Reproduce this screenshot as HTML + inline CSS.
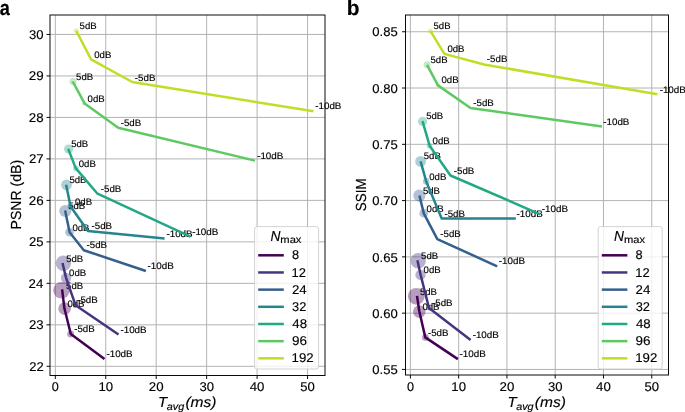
<!DOCTYPE html>
<html><head><meta charset="utf-8"><style>
html,body{margin:0;padding:0;background:#fff;}
svg{display:block;font-family:"Liberation Sans", sans-serif;will-change:transform;}
text{fill:#000;text-rendering:geometricPrecision;stroke:#000;stroke-width:0.15px;}
</style></head><body>
<svg width="685" height="412" viewBox="0 0 685 412">
<rect width="685" height="412" fill="#fff"/>
<path d="M55.30 15.00V375.50 M105.75 15.00V375.50 M156.20 15.00V375.50 M206.65 15.00V375.50 M257.10 15.00V375.50 M307.55 15.00V375.50 M50.00 366.30H325.00 M50.00 324.82H325.00 M50.00 283.34H325.00 M50.00 241.86H325.00 M50.00 200.38H325.00 M50.00 158.90H325.00 M50.00 117.42H325.00 M50.00 75.94H325.00 M50.00 34.46H325.00" stroke="#b0b0b0" stroke-width="0.96" fill="none"/>
<path d="M410.40 15.00V375.00 M458.67 15.00V375.00 M506.94 15.00V375.00 M555.21 15.00V375.00 M603.48 15.00V375.00 M651.75 15.00V375.00 M405.50 369.45H668.50 M405.50 313.17H668.50 M405.50 256.88H668.50 M405.50 200.60H668.50 M405.50 144.32H668.50 M405.50 88.03H668.50 M405.50 31.75H668.50" stroke="#b0b0b0" stroke-width="0.96" fill="none"/>
<circle cx="76.20" cy="30.80" r="2.60" fill="#bddf26" fill-opacity="0.38"/>
<circle cx="73.00" cy="81.50" r="3.50" fill="#5ec962" fill-opacity="0.38"/>
<circle cx="84.00" cy="103.60" r="2.00" fill="#5ec962" fill-opacity="0.38"/>
<circle cx="68.60" cy="149.10" r="4.60" fill="#22a884" fill-opacity="0.38"/>
<circle cx="75.90" cy="168.40" r="2.80" fill="#22a884" fill-opacity="0.38"/>
<circle cx="66.50" cy="185.00" r="5.40" fill="#25848e" fill-opacity="0.38"/>
<circle cx="70.60" cy="206.30" r="3.00" fill="#25848e" fill-opacity="0.38"/>
<circle cx="65.30" cy="211.00" r="6.10" fill="#355f8d" fill-opacity="0.38"/>
<circle cx="69.50" cy="232.30" r="4.30" fill="#355f8d" fill-opacity="0.38"/>
<circle cx="63.40" cy="263.30" r="7.70" fill="#463480" fill-opacity="0.38"/>
<circle cx="66.00" cy="278.00" r="5.20" fill="#463480" fill-opacity="0.38"/>
<circle cx="75.30" cy="305.50" r="2.50" fill="#463480" fill-opacity="0.38"/>
<circle cx="61.50" cy="290.30" r="8.30" fill="#440154" fill-opacity="0.38"/>
<circle cx="64.60" cy="308.60" r="6.30" fill="#440154" fill-opacity="0.38"/>
<circle cx="70.70" cy="334.00" r="3.50" fill="#440154" fill-opacity="0.38"/>
<polyline points="62.10,289.40 64.40,308.30 70.80,334.00 104.50,359.10" fill="none" stroke="#440154" stroke-width="2.5" stroke-linejoin="round" stroke-linecap="butt"/>
<text x="66.12" y="288.60" font-size="9.43" textLength="16.99" lengthAdjust="spacingAndGlyphs" >5dB</text>
<text x="67.42" y="306.90" font-size="9.43" textLength="17.08" lengthAdjust="spacingAndGlyphs" >0dB</text>
<text x="74.17" y="331.70" font-size="9.43" textLength="20.51" lengthAdjust="spacingAndGlyphs" >-5dB</text>
<text x="106.46" y="356.90" font-size="9.43" textLength="26.18" lengthAdjust="spacingAndGlyphs" >-10dB</text>
<polyline points="62.50,263.00 66.00,277.60 75.50,305.20 118.50,334.50" fill="none" stroke="#463480" stroke-width="2.5" stroke-linejoin="round" stroke-linecap="butt"/>
<text x="66.22" y="261.50" font-size="9.43" textLength="16.99" lengthAdjust="spacingAndGlyphs" >5dB</text>
<text x="69.12" y="276.30" font-size="9.43" textLength="17.08" lengthAdjust="spacingAndGlyphs" >0dB</text>
<text x="77.17" y="302.80" font-size="9.43" textLength="20.51" lengthAdjust="spacingAndGlyphs" >-5dB</text>
<text x="120.46" y="333.00" font-size="9.43" textLength="26.18" lengthAdjust="spacingAndGlyphs" >-10dB</text>
<polyline points="65.10,210.60 69.60,232.20 83.80,250.20 145.90,271.00" fill="none" stroke="#355f8d" stroke-width="2.5" stroke-linejoin="round" stroke-linecap="butt"/>
<text x="68.22" y="208.60" font-size="9.43" textLength="16.99" lengthAdjust="spacingAndGlyphs" >5dB</text>
<text x="72.42" y="230.70" font-size="9.43" textLength="17.08" lengthAdjust="spacingAndGlyphs" >0dB</text>
<text x="86.57" y="247.90" font-size="9.43" textLength="20.51" lengthAdjust="spacingAndGlyphs" >-5dB</text>
<text x="147.56" y="268.70" font-size="9.43" textLength="26.18" lengthAdjust="spacingAndGlyphs" >-10dB</text>
<polyline points="66.10,184.80 70.60,206.50 87.90,231.00 164.60,238.40" fill="none" stroke="#25848e" stroke-width="2.5" stroke-linejoin="round" stroke-linecap="butt"/>
<text x="69.42" y="183.00" font-size="9.43" textLength="16.99" lengthAdjust="spacingAndGlyphs" >5dB</text>
<text x="75.02" y="204.70" font-size="9.43" textLength="17.08" lengthAdjust="spacingAndGlyphs" >0dB</text>
<text x="91.57" y="229.00" font-size="9.43" textLength="20.51" lengthAdjust="spacingAndGlyphs" >-5dB</text>
<text x="166.46" y="236.80" font-size="9.43" textLength="26.18" lengthAdjust="spacingAndGlyphs" >-10dB</text>
<polyline points="68.20,148.90 75.70,168.10 97.50,193.70 190.40,236.70" fill="none" stroke="#22a884" stroke-width="2.5" stroke-linejoin="round" stroke-linecap="butt"/>
<text x="71.22" y="147.20" font-size="9.43" textLength="16.99" lengthAdjust="spacingAndGlyphs" >5dB</text>
<text x="78.72" y="166.70" font-size="9.43" textLength="17.08" lengthAdjust="spacingAndGlyphs" >0dB</text>
<text x="100.77" y="191.90" font-size="9.43" textLength="20.51" lengthAdjust="spacingAndGlyphs" >-5dB</text>
<text x="192.16" y="235.10" font-size="9.43" textLength="26.18" lengthAdjust="spacingAndGlyphs" >-10dB</text>
<polyline points="72.70,81.50 84.60,103.40 118.20,127.70 255.00,160.60" fill="none" stroke="#5ec962" stroke-width="2.5" stroke-linejoin="round" stroke-linecap="butt"/>
<text x="76.12" y="79.70" font-size="9.43" textLength="16.99" lengthAdjust="spacingAndGlyphs" >5dB</text>
<text x="87.62" y="101.70" font-size="9.43" textLength="17.08" lengthAdjust="spacingAndGlyphs" >0dB</text>
<text x="120.67" y="126.00" font-size="9.43" textLength="20.51" lengthAdjust="spacingAndGlyphs" >-5dB</text>
<text x="257.16" y="159.10" font-size="9.43" textLength="26.18" lengthAdjust="spacingAndGlyphs" >-10dB</text>
<polyline points="76.30,30.90 91.00,59.30 132.20,82.00 313.50,111.30" fill="none" stroke="#bddf26" stroke-width="2.5" stroke-linejoin="round" stroke-linecap="butt"/>
<text x="79.62" y="29.40" font-size="9.43" textLength="16.99" lengthAdjust="spacingAndGlyphs" >5dB</text>
<text x="94.22" y="58.00" font-size="9.43" textLength="17.08" lengthAdjust="spacingAndGlyphs" >0dB</text>
<text x="134.87" y="80.60" font-size="9.43" textLength="20.51" lengthAdjust="spacingAndGlyphs" >-5dB</text>
<text x="315.26" y="109.40" font-size="9.43" textLength="26.18" lengthAdjust="spacingAndGlyphs" >-10dB</text>
<circle cx="430.50" cy="31.10" r="2.60" fill="#bddf26" fill-opacity="0.38"/>
<circle cx="427.00" cy="64.80" r="3.50" fill="#5ec962" fill-opacity="0.38"/>
<circle cx="438.00" cy="85.20" r="2.00" fill="#5ec962" fill-opacity="0.38"/>
<circle cx="422.60" cy="121.40" r="4.60" fill="#22a884" fill-opacity="0.38"/>
<circle cx="429.60" cy="145.70" r="2.80" fill="#22a884" fill-opacity="0.38"/>
<circle cx="420.60" cy="161.40" r="5.40" fill="#25848e" fill-opacity="0.38"/>
<circle cx="426.20" cy="181.40" r="3.30" fill="#25848e" fill-opacity="0.38"/>
<circle cx="419.40" cy="195.60" r="6.10" fill="#355f8d" fill-opacity="0.38"/>
<circle cx="423.70" cy="213.30" r="4.30" fill="#355f8d" fill-opacity="0.38"/>
<circle cx="418.20" cy="260.80" r="7.70" fill="#463480" fill-opacity="0.38"/>
<circle cx="420.50" cy="274.90" r="5.20" fill="#463480" fill-opacity="0.38"/>
<circle cx="429.00" cy="308.00" r="2.50" fill="#463480" fill-opacity="0.38"/>
<circle cx="416.30" cy="296.30" r="8.40" fill="#440154" fill-opacity="0.38"/>
<circle cx="419.30" cy="311.60" r="6.30" fill="#440154" fill-opacity="0.38"/>
<circle cx="425.40" cy="337.40" r="3.40" fill="#440154" fill-opacity="0.38"/>
<polyline points="417.00,295.90 419.30,311.20 425.30,337.40 457.90,359.10" fill="none" stroke="#440154" stroke-width="2.5" stroke-linejoin="round" stroke-linecap="butt"/>
<text x="419.92" y="294.60" font-size="9.43" textLength="16.99" lengthAdjust="spacingAndGlyphs" >5dB</text>
<text x="422.42" y="309.50" font-size="9.43" textLength="17.08" lengthAdjust="spacingAndGlyphs" >0dB</text>
<text x="427.97" y="335.70" font-size="9.43" textLength="20.51" lengthAdjust="spacingAndGlyphs" >-5dB</text>
<text x="459.56" y="356.60" font-size="9.43" textLength="26.18" lengthAdjust="spacingAndGlyphs" >-10dB</text>
<polyline points="417.40,260.30 420.60,274.70 429.00,308.00 470.60,339.90" fill="none" stroke="#463480" stroke-width="2.5" stroke-linejoin="round" stroke-linecap="butt"/>
<text x="421.12" y="258.60" font-size="9.43" textLength="16.99" lengthAdjust="spacingAndGlyphs" >5dB</text>
<text x="423.62" y="272.50" font-size="9.43" textLength="17.08" lengthAdjust="spacingAndGlyphs" >0dB</text>
<text x="432.07" y="306.40" font-size="9.43" textLength="20.51" lengthAdjust="spacingAndGlyphs" >-5dB</text>
<text x="472.66" y="338.00" font-size="9.43" textLength="26.18" lengthAdjust="spacingAndGlyphs" >-10dB</text>
<polyline points="419.40,195.50 423.80,213.40 437.30,239.10 497.20,266.30" fill="none" stroke="#355f8d" stroke-width="2.5" stroke-linejoin="round" stroke-linecap="butt"/>
<text x="422.92" y="193.80" font-size="9.43" textLength="16.99" lengthAdjust="spacingAndGlyphs" >5dB</text>
<text x="426.62" y="211.50" font-size="9.43" textLength="17.08" lengthAdjust="spacingAndGlyphs" >0dB</text>
<text x="440.27" y="236.60" font-size="9.43" textLength="20.51" lengthAdjust="spacingAndGlyphs" >-5dB</text>
<text x="498.86" y="263.50" font-size="9.43" textLength="26.18" lengthAdjust="spacingAndGlyphs" >-10dB</text>
<polyline points="420.60,161.30 426.20,181.40 441.70,218.40 515.80,218.60" fill="none" stroke="#25848e" stroke-width="2.5" stroke-linejoin="round" stroke-linecap="butt"/>
<text x="423.82" y="159.20" font-size="9.43" textLength="16.99" lengthAdjust="spacingAndGlyphs" >5dB</text>
<text x="429.22" y="179.70" font-size="9.43" textLength="17.08" lengthAdjust="spacingAndGlyphs" >0dB</text>
<text x="444.47" y="216.60" font-size="9.43" textLength="20.51" lengthAdjust="spacingAndGlyphs" >-5dB</text>
<text x="516.56" y="216.90" font-size="9.43" textLength="26.18" lengthAdjust="spacingAndGlyphs" >-10dB</text>
<polyline points="422.50,121.20 429.60,145.70 450.50,175.50 540.20,214.30" fill="none" stroke="#22a884" stroke-width="2.5" stroke-linejoin="round" stroke-linecap="butt"/>
<text x="426.22" y="119.30" font-size="9.43" textLength="16.99" lengthAdjust="spacingAndGlyphs" >5dB</text>
<text x="432.62" y="144.00" font-size="9.43" textLength="17.08" lengthAdjust="spacingAndGlyphs" >0dB</text>
<text x="453.77" y="173.70" font-size="9.43" textLength="20.51" lengthAdjust="spacingAndGlyphs" >-5dB</text>
<text x="541.86" y="211.80" font-size="9.43" textLength="26.18" lengthAdjust="spacingAndGlyphs" >-10dB</text>
<polyline points="427.00,64.80 438.00,85.40 470.50,108.00 602.00,126.50" fill="none" stroke="#5ec962" stroke-width="2.5" stroke-linejoin="round" stroke-linecap="butt"/>
<text x="430.52" y="62.60" font-size="9.43" textLength="16.99" lengthAdjust="spacingAndGlyphs" >5dB</text>
<text x="441.52" y="83.00" font-size="9.43" textLength="17.08" lengthAdjust="spacingAndGlyphs" >0dB</text>
<text x="473.27" y="106.10" font-size="9.43" textLength="20.51" lengthAdjust="spacingAndGlyphs" >-5dB</text>
<text x="603.26" y="124.60" font-size="9.43" textLength="26.18" lengthAdjust="spacingAndGlyphs" >-10dB</text>
<polyline points="430.50,31.10 444.40,53.90 484.00,64.50 657.40,94.30" fill="none" stroke="#bddf26" stroke-width="2.5" stroke-linejoin="round" stroke-linecap="butt"/>
<text x="433.52" y="29.40" font-size="9.43" textLength="16.99" lengthAdjust="spacingAndGlyphs" >5dB</text>
<text x="447.42" y="52.00" font-size="9.43" textLength="17.08" lengthAdjust="spacingAndGlyphs" >0dB</text>
<text x="486.87" y="62.20" font-size="9.43" textLength="20.51" lengthAdjust="spacingAndGlyphs" >-5dB</text>
<text x="659.66" y="92.50" font-size="9.43" textLength="26.18" lengthAdjust="spacingAndGlyphs" >-10dB</text>
<rect x="50.00" y="15.00" width="275.00" height="360.50" fill="none" stroke="#000" stroke-width="0.96"/>
<path d="M55.30 375.50v3.5 M105.75 375.50v3.5 M156.20 375.50v3.5 M206.65 375.50v3.5 M257.10 375.50v3.5 M307.55 375.50v3.5 M50.00 366.30h-3.5 M50.00 324.82h-3.5 M50.00 283.34h-3.5 M50.00 241.86h-3.5 M50.00 200.38h-3.5 M50.00 158.90h-3.5 M50.00 117.42h-3.5 M50.00 75.94h-3.5 M50.00 34.46h-3.5" stroke="#000" stroke-width="0.96" fill="none"/>
<text x="51.78" y="390.80" font-size="12.72" textLength="7.04" lengthAdjust="spacingAndGlyphs" >0</text>
<text x="98.43" y="390.80" font-size="12.72" textLength="14.67" lengthAdjust="spacingAndGlyphs" >10</text>
<text x="148.78" y="390.80" font-size="12.72" textLength="14.78" lengthAdjust="spacingAndGlyphs" >20</text>
<text x="199.43" y="390.80" font-size="12.72" textLength="14.57" lengthAdjust="spacingAndGlyphs" >30</text>
<text x="249.75" y="390.80" font-size="12.72" textLength="14.71" lengthAdjust="spacingAndGlyphs" >40</text>
<text x="300.32" y="390.80" font-size="12.72" textLength="14.58" lengthAdjust="spacingAndGlyphs" >50</text>
<text x="29.15" y="370.60" font-size="12.72" textLength="14.50" lengthAdjust="spacingAndGlyphs" >22</text>
<text x="28.91" y="329.12" font-size="12.72" textLength="14.67" lengthAdjust="spacingAndGlyphs" >23</text>
<text x="28.62" y="287.64" font-size="12.72" textLength="14.77" lengthAdjust="spacingAndGlyphs" >24</text>
<text x="29.00" y="246.16" font-size="12.72" textLength="14.55" lengthAdjust="spacingAndGlyphs" >25</text>
<text x="28.69" y="204.68" font-size="12.72" textLength="14.90" lengthAdjust="spacingAndGlyphs" >26</text>
<text x="28.97" y="163.20" font-size="12.72" textLength="14.69" lengthAdjust="spacingAndGlyphs" >27</text>
<text x="28.76" y="121.72" font-size="12.72" textLength="14.82" lengthAdjust="spacingAndGlyphs" >28</text>
<text x="28.78" y="80.24" font-size="12.72" textLength="14.85" lengthAdjust="spacingAndGlyphs" >29</text>
<text x="28.94" y="38.76" font-size="12.72" textLength="14.57" lengthAdjust="spacingAndGlyphs" >30</text>
<rect x="405.50" y="15.00" width="263.00" height="360.00" fill="none" stroke="#000" stroke-width="0.96"/>
<path d="M410.40 375.00v3.5 M458.67 375.00v3.5 M506.94 375.00v3.5 M555.21 375.00v3.5 M603.48 375.00v3.5 M651.75 375.00v3.5 M405.50 369.45h-3.5 M405.50 313.17h-3.5 M405.50 256.88h-3.5 M405.50 200.60h-3.5 M405.50 144.32h-3.5 M405.50 88.03h-3.5 M405.50 31.75h-3.5" stroke="#000" stroke-width="0.96" fill="none"/>
<text x="406.88" y="390.80" font-size="12.72" textLength="7.04" lengthAdjust="spacingAndGlyphs" >0</text>
<text x="451.35" y="390.80" font-size="12.72" textLength="14.67" lengthAdjust="spacingAndGlyphs" >10</text>
<text x="499.52" y="390.80" font-size="12.72" textLength="14.78" lengthAdjust="spacingAndGlyphs" >20</text>
<text x="547.99" y="390.80" font-size="12.72" textLength="14.57" lengthAdjust="spacingAndGlyphs" >30</text>
<text x="596.13" y="390.80" font-size="12.72" textLength="14.71" lengthAdjust="spacingAndGlyphs" >40</text>
<text x="644.52" y="390.80" font-size="12.72" textLength="14.58" lengthAdjust="spacingAndGlyphs" >50</text>
<text x="372.29" y="374.10" font-size="12.72" textLength="25.46" lengthAdjust="spacingAndGlyphs" >0.55</text>
<text x="372.29" y="317.82" font-size="12.72" textLength="25.42" lengthAdjust="spacingAndGlyphs" >0.60</text>
<text x="372.29" y="261.53" font-size="12.72" textLength="25.46" lengthAdjust="spacingAndGlyphs" >0.65</text>
<text x="372.29" y="205.25" font-size="12.72" textLength="25.42" lengthAdjust="spacingAndGlyphs" >0.70</text>
<text x="372.29" y="148.97" font-size="12.72" textLength="25.46" lengthAdjust="spacingAndGlyphs" >0.75</text>
<text x="372.29" y="92.68" font-size="12.72" textLength="25.42" lengthAdjust="spacingAndGlyphs" >0.80</text>
<text x="372.29" y="36.40" font-size="12.72" textLength="25.46" lengthAdjust="spacingAndGlyphs" >0.85</text>
<rect x="254.60" y="226.60" width="64.00" height="142.40" rx="2.5" fill="#fff" fill-opacity="0.8" stroke="#cccccc" stroke-opacity="0.9" stroke-width="0.96"/>
<text x="270.48" y="241.00" font-size="14.58" textLength="9.96" lengthAdjust="spacingAndGlyphs" font-style="italic" >N</text>
<text x="280.36" y="242.70" font-size="10.28" textLength="21.06" lengthAdjust="spacingAndGlyphs" >max</text>
<path d="M258.20 255.30H283.80" stroke="#440154" stroke-width="2.5"/>
<text x="292.04" y="259.40" font-size="12.72" textLength="7.11" lengthAdjust="spacingAndGlyphs" >8</text>
<path d="M258.20 272.47H283.80" stroke="#463480" stroke-width="2.5"/>
<text x="291.61" y="276.57" font-size="12.72" textLength="14.39" lengthAdjust="spacingAndGlyphs" >12</text>
<path d="M258.20 289.64H283.80" stroke="#355f8d" stroke-width="2.5"/>
<text x="291.93" y="293.74" font-size="12.72" textLength="14.77" lengthAdjust="spacingAndGlyphs" >24</text>
<path d="M258.20 306.81H283.80" stroke="#25848e" stroke-width="2.5"/>
<text x="292.11" y="310.91" font-size="12.72" textLength="14.29" lengthAdjust="spacingAndGlyphs" >32</text>
<path d="M258.20 323.98H283.80" stroke="#22a884" stroke-width="2.5"/>
<text x="292.30" y="328.08" font-size="12.72" textLength="14.74" lengthAdjust="spacingAndGlyphs" >48</text>
<path d="M258.20 341.15H283.80" stroke="#5ec962" stroke-width="2.5"/>
<text x="291.97" y="345.25" font-size="12.72" textLength="14.98" lengthAdjust="spacingAndGlyphs" >96</text>
<path d="M258.20 358.32H283.80" stroke="#bddf26" stroke-width="2.5"/>
<text x="291.59" y="362.42" font-size="12.72" textLength="22.06" lengthAdjust="spacingAndGlyphs" >192</text>
<rect x="598.20" y="226.60" width="64.00" height="142.40" rx="2.5" fill="#fff" fill-opacity="0.8" stroke="#cccccc" stroke-opacity="0.9" stroke-width="0.96"/>
<text x="614.08" y="241.00" font-size="14.58" textLength="9.96" lengthAdjust="spacingAndGlyphs" font-style="italic" >N</text>
<text x="623.96" y="242.70" font-size="10.28" textLength="21.06" lengthAdjust="spacingAndGlyphs" >max</text>
<path d="M601.80 255.30H627.40" stroke="#440154" stroke-width="2.5"/>
<text x="635.64" y="259.40" font-size="12.72" textLength="7.11" lengthAdjust="spacingAndGlyphs" >8</text>
<path d="M601.80 272.47H627.40" stroke="#463480" stroke-width="2.5"/>
<text x="635.21" y="276.57" font-size="12.72" textLength="14.39" lengthAdjust="spacingAndGlyphs" >12</text>
<path d="M601.80 289.64H627.40" stroke="#355f8d" stroke-width="2.5"/>
<text x="635.53" y="293.74" font-size="12.72" textLength="14.77" lengthAdjust="spacingAndGlyphs" >24</text>
<path d="M601.80 306.81H627.40" stroke="#25848e" stroke-width="2.5"/>
<text x="635.71" y="310.91" font-size="12.72" textLength="14.29" lengthAdjust="spacingAndGlyphs" >32</text>
<path d="M601.80 323.98H627.40" stroke="#22a884" stroke-width="2.5"/>
<text x="635.90" y="328.08" font-size="12.72" textLength="14.74" lengthAdjust="spacingAndGlyphs" >48</text>
<path d="M601.80 341.15H627.40" stroke="#5ec962" stroke-width="2.5"/>
<text x="635.57" y="345.25" font-size="12.72" textLength="14.98" lengthAdjust="spacingAndGlyphs" >96</text>
<path d="M601.80 358.32H627.40" stroke="#bddf26" stroke-width="2.5"/>
<text x="635.19" y="362.42" font-size="12.72" textLength="22.06" lengthAdjust="spacingAndGlyphs" >192</text>
<g transform="translate(21.20 0) rotate(-90)"><text x="-229.45" y="0.00" font-size="14.58" textLength="69.53" lengthAdjust="spacingAndGlyphs" >PSNR (dB)</text></g>
<g transform="translate(365.60 0) rotate(-90)"><text x="-211.21" y="0.00" font-size="14.58" textLength="32.81" lengthAdjust="spacingAndGlyphs" >SSIM</text></g>
<text x="158.10" y="407.10" font-size="14.58" textLength="9.16" lengthAdjust="spacingAndGlyphs" font-style="italic" >T</text>
<text x="166.81" y="409.60" font-size="10.28" textLength="17.44" lengthAdjust="spacingAndGlyphs" font-style="italic" >avg</text>
<text x="185.42" y="407.10" font-size="14.58" textLength="31.16" lengthAdjust="spacingAndGlyphs" font-style="italic" >(ms)</text>
<text x="507.45" y="407.10" font-size="14.58" textLength="9.16" lengthAdjust="spacingAndGlyphs" font-style="italic" >T</text>
<text x="516.16" y="409.60" font-size="10.28" textLength="17.44" lengthAdjust="spacingAndGlyphs" font-style="italic" >avg</text>
<text x="534.77" y="407.10" font-size="14.58" textLength="31.16" lengthAdjust="spacingAndGlyphs" font-style="italic" >(ms)</text>
<text x="-0.13" y="14.5" font-size="20.8" font-weight="bold" textLength="10.12" lengthAdjust="spacingAndGlyphs">a</text>
<text x="346.7" y="14.6" font-size="20.8" font-weight="bold">b</text>
</svg>
</body></html>
